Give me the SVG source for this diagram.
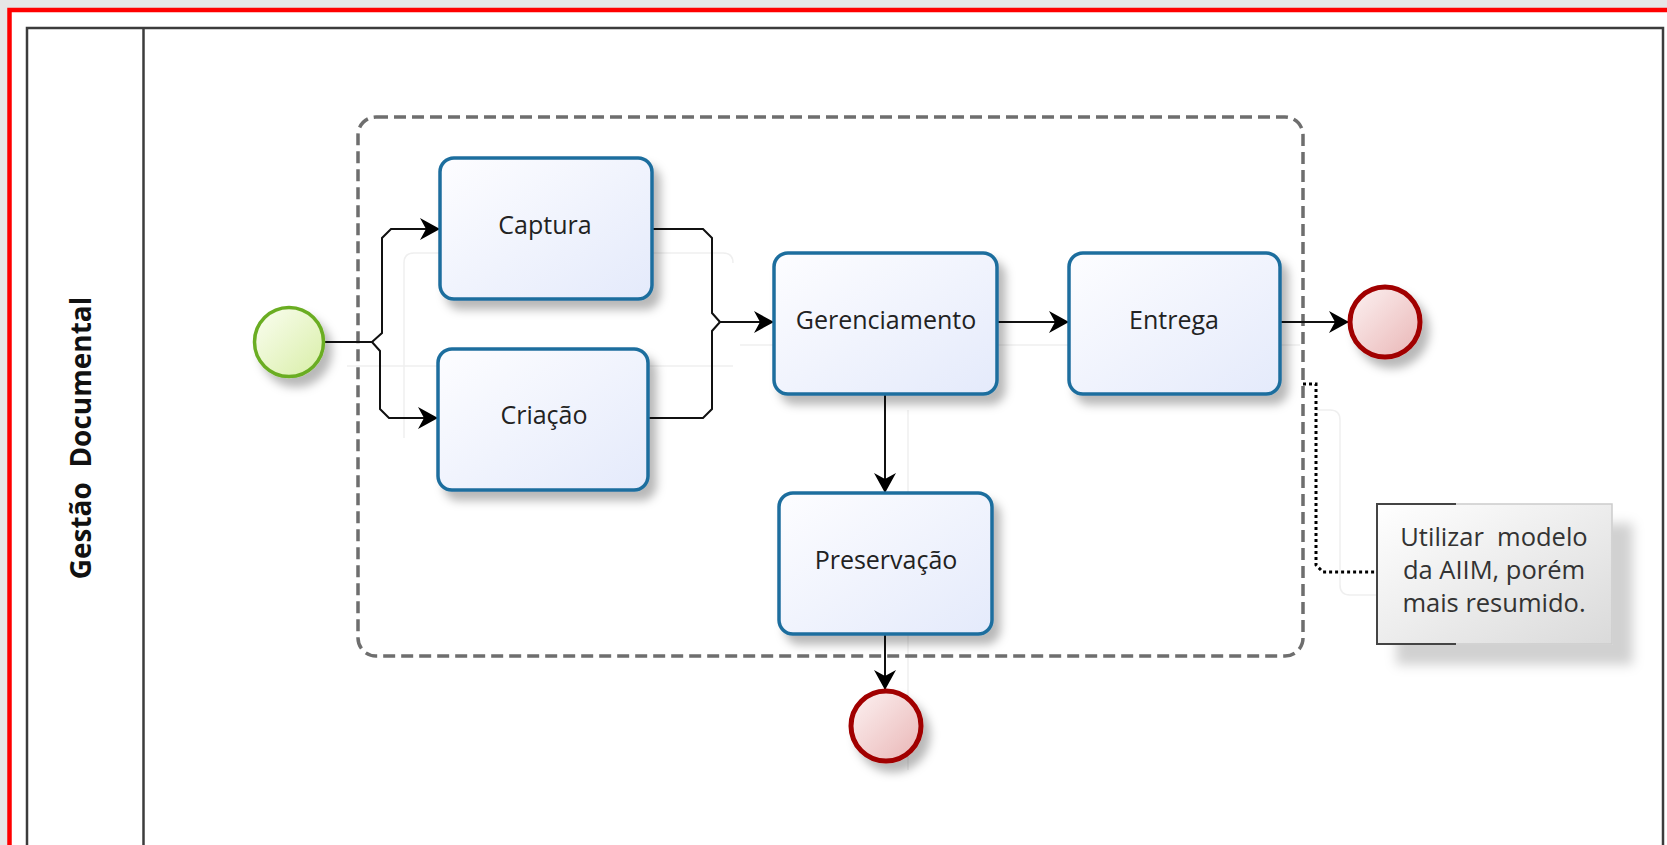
<svg xmlns="http://www.w3.org/2000/svg" width="1667" height="845" viewBox="0 0 1667 845">
  <defs>
    <linearGradient id="taskFill" x1="0" y1="0" x2="1" y2="1">
      <stop offset="0" stop-color="#fdfdff"/>
      <stop offset="1" stop-color="#e4eafb"/>
    </linearGradient>
    <linearGradient id="startFill" x1="0" y1="0" x2="1" y2="1">
      <stop offset="0" stop-color="#fbfef2"/>
      <stop offset="1" stop-color="#d8eea6"/>
    </linearGradient>
    <linearGradient id="endFill" x1="0" y1="0" x2="1" y2="1">
      <stop offset="0" stop-color="#fdf3f3"/>
      <stop offset="1" stop-color="#e9b5b5"/>
    </linearGradient>
    <linearGradient id="noteFill" x1="0" y1="0" x2="1" y2="1">
      <stop offset="0" stop-color="#ffffff"/>
      <stop offset="1" stop-color="#dadada"/>
    </linearGradient>
    <filter id="shadow" x="-20%" y="-20%" width="150%" height="150%">
      <feDropShadow dx="7" dy="9" stdDeviation="5" flood-color="#000" flood-opacity="0.28"/>
    </filter>
    <filter id="noteShadow" x="-20%" y="-20%" width="150%" height="160%">
      <feDropShadow dx="20" dy="20" stdDeviation="6" flood-color="#000" flood-opacity="0.18"/>
    </filter>
    <marker id="arrow" viewBox="0 0 20 22" markerWidth="20" markerHeight="22" refX="20" refY="11" orient="auto" markerUnits="userSpaceOnUse">
      <path d="M0,0 L20,11 L0,22 L6,11 Z" fill="#000"/>
    </marker>
  </defs>
  <style>
    .task { fill: url(#taskFill); stroke: #1f6e9e; stroke-width: 3.5; filter: url(#shadow); }
    .label { font-family: "Open Sans", "Noto Sans", sans-serif; font-size: 25px; fill: #222; text-anchor: middle; }
    .note { font-family: "Open Sans", "Noto Sans", sans-serif; font-size: 25.5px; fill: #333; text-anchor: middle; }
    .flow { fill: none; stroke: #111; stroke-width: 2; }
    .flow-arrow { fill: none; stroke: #111; stroke-width: 2; marker-end: url(#arrow); }
    .ghost { fill: none; stroke: #efefef; stroke-width: 1.5; }
    .end { fill: url(#endFill); stroke: #a10000; stroke-width: 5; filter: url(#shadow); }
  </style>

  <!-- canvas and frame -->
  <rect x="0" y="0" width="1667" height="845" fill="#e6e6e6"/>
  <rect x="9.5" y="10" width="1700" height="900" fill="#ffffff" stroke="#ff0000" stroke-width="4.5"/>

  <!-- pool with a single lane -->
  <g id="pool">
    <rect x="27" y="28" width="1636" height="900" fill="#ffffff" stroke="#3c3c3c" stroke-width="2.5"/>
    <line x1="143.5" y1="28" x2="143.5" y2="845" stroke="#3c3c3c" stroke-width="2.5"/>
    <text transform="translate(91,438) rotate(-90)" font-family="Open Sans, Noto Sans, sans-serif" font-weight="bold" font-size="28" fill="#111" text-anchor="middle" xml:space="preserve">Gestão  Documental</text>
  </g>

  <!-- faint leftover guides -->
  <g id="guides">
    <path class="ghost" d="M404,438 L404,263 Q404,253 414,253 L723,253 Q733,253 733,263"/>
    <path class="ghost" d="M347,366 L733,366"/>
    <path class="ghost" d="M740,345 L1300,345"/>
    <path class="ghost" d="M908,410 L908,770"/>
    <path class="ghost" d="M1316,410 L1330,410 Q1340,410 1340,420 L1340,585 Q1340,595 1350,595 L1377,595"/>
  </g>

  <!-- dashed group -->
  <g id="group">
    <rect x="358" y="117" width="945" height="539" rx="18" fill="none" stroke="#6e6e6e" stroke-width="3.5" stroke-dasharray="12 6"/>
  </g>

  <!-- connectors -->
  <g id="connectors">
    <path class="flow-arrow" d="M325,342 L372,342 L382,333 L382,238 L391,229 L440,229"/>
    <path class="flow-arrow" d="M372,342 L380,351 L380,409 L389,418 L438,418"/>
    <path class="flow" d="M652,229 L703,229 L712,238 L712,313 L720,322"/>
    <path class="flow" d="M648,418 L703,418 L712,409 L712,331 L720,322"/>
    <path class="flow-arrow" d="M720,322 L774,322"/>
    <path class="flow-arrow" d="M997,322 L1069,322"/>
    <path class="flow-arrow" d="M1280,322 L1349,322"/>
    <path class="flow-arrow" d="M885,394 L885,493"/>
    <path class="flow-arrow" d="M885,634 L885,690"/>
    <path d="M1303,384 L1316,384 L1316,565 L1323,572 L1377,572" fill="none" stroke="#000" stroke-width="3" stroke-dasharray="3 3"/>
  </g>

  <!-- start event -->
  <g id="start">
    <circle cx="289" cy="342" r="34.5" fill="url(#startFill)" stroke="#6aad22" stroke-width="3.5" filter="url(#shadow)"/>
  </g>

  <!-- tasks -->
  <g id="captura">
    <rect class="task" x="440" y="158" width="212" height="141" rx="14"/>
    <text class="label" x="545" y="234">Captura</text>
  </g>
  <g id="criacao">
    <rect class="task" x="438" y="349" width="210" height="141" rx="14"/>
    <text class="label" x="544" y="424">Criação</text>
  </g>
  <g id="gerenciamento">
    <rect class="task" x="774" y="253" width="223" height="141" rx="14"/>
    <text class="label" x="886" y="329">Gerenciamento</text>
  </g>
  <g id="entrega">
    <rect class="task" x="1069" y="253" width="211" height="141" rx="14"/>
    <text class="label" x="1174" y="329">Entrega</text>
  </g>
  <g id="preservacao">
    <rect class="task" x="779" y="493" width="213" height="141" rx="14"/>
    <text class="label" x="886" y="569">Preservação</text>
  </g>

  <!-- end events -->
  <g id="end-entrega">
    <circle class="end" cx="1385" cy="322" r="35"/>
  </g>
  <g id="end-preservacao">
    <circle class="end" cx="886" cy="726" r="35"/>
  </g>

  <!-- text annotation -->
  <g id="annotation">
    <rect x="1377" y="504" width="235" height="140" fill="url(#noteFill)" stroke="#cccccc" stroke-width="1.5" filter="url(#noteShadow)"/>
    <path d="M1456,504 L1377,504 L1377,644 L1456,644" fill="none" stroke="#444" stroke-width="2"/>
    <text class="note" x="1494" y="546" xml:space="preserve">Utilizar  modelo</text>
    <text class="note" x="1494" y="579">da AIIM, porém</text>
    <text class="note" x="1494" y="612">mais resumido.</text>
  </g>
</svg>
